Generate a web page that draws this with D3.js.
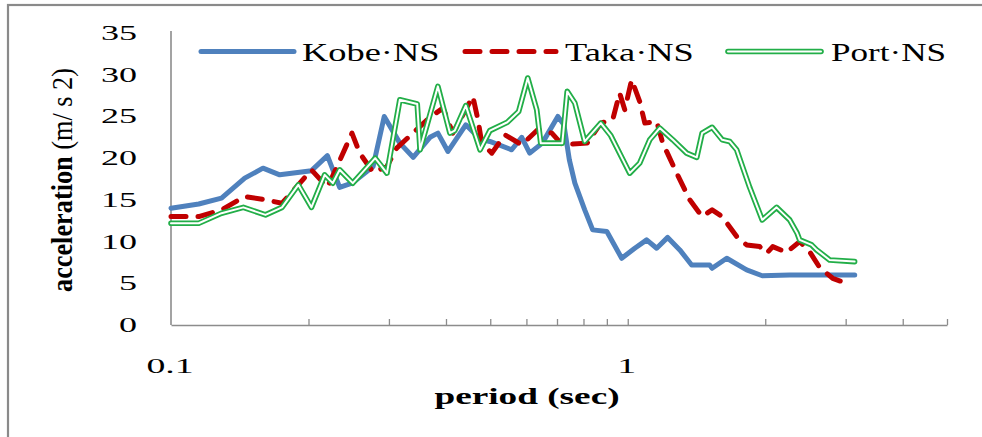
<!DOCTYPE html>
<html>
<head>
<meta charset="utf-8">
<script src="https://cdn.jsdelivr.net/npm/d3@7/dist/d3.min.js"></script>
<style>
  html, body { margin: 0; padding: 0; background: #fff; }
  svg { display: block; }
  text { font-family: "Liberation Serif", "DejaVu Serif", serif; fill: #000; }
</style>
</head>
<body>
<svg id="chart" width="982" height="437"></svg>
<script>
// Response spectra (acceleration vs. natural period), three NS records
const kobePeriod = [0.1, 0.115, 0.129, 0.145, 0.159, 0.173, 0.203, 0.220, 0.234, 0.249, 0.277, 0.293,
  0.317, 0.339, 0.369, 0.384, 0.404, 0.442, 0.475, 0.499, 0.557, 0.586, 0.610, 0.650, 0.703, 0.725,
  0.745, 0.766, 0.805, 0.838, 0.900, 0.970, 1.036, 1.10, 1.157, 1.223, 1.30, 1.38, 1.511, 1.53,
  1.647, 1.821, 1.97, 2.262, 3.14];
const kobeAcc = [14.0, 14.5, 15.2, 17.6, 18.8, 18.0, 18.5, 20.3, 16.5, 17.0, 19.0, 25.0,
  21.8, 20.1, 22.5, 23.0, 20.8, 24.0, 22.3, 22.0, 21.0, 22.5, 20.6, 21.8, 25.0, 24.0,
  19.8, 17.0, 13.8, 11.4, 11.2, 8.0, 9.2, 10.2, 9.2, 10.5, 9.0, 7.2, 7.2, 6.8,
  8.0, 6.6, 5.9, 6.0, 6.0];

const takaPeriod = [0.1, 0.115, 0.129, 0.145, 0.161, 0.175, 0.190, 0.203, 0.220, 0.231, 0.249, 0.259,
  0.277, 0.297, 0.312, 0.369, 0.394, 0.414, 0.458, 0.470, 0.479, 0.504, 0.538, 0.586, 0.635, 0.682,
  0.719, 0.815, 0.873, 0.927, 0.960, 0.985, 1.02, 1.062, 1.09, 1.157, 1.193, 1.28, 1.367, 1.455,
  1.53, 1.61, 1.732, 1.821, 1.945, 2.015, 2.077, 2.227, 2.379, 2.501, 2.631, 2.81, 3.01];
const takaAcc = [13.0, 13.0, 13.8, 15.4, 15.0, 14.6, 16.8, 18.6, 16.5, 19.0, 23.0, 20.6,
  18.3, 19.0, 21.2, 24.9, 26.0, 23.0, 27.4, 24.6, 21.8, 20.6, 22.8, 21.6, 23.4, 23.0,
  21.6, 21.8, 24.2, 24.6, 27.8, 25.8, 29.4, 26.8, 24.2, 24.4, 21.8, 18.2, 15.0, 13.0,
  13.8, 13.0, 10.6, 9.6, 9.4, 8.6, 9.4, 8.7, 10.0, 8.8, 6.9, 5.6, 5.0];

const portPeriod = [0.1, 0.115, 0.129, 0.144, 0.161, 0.175, 0.190, 0.203, 0.217, 0.226, 0.234, 0.250,
  0.280, 0.297, 0.317, 0.346, 0.351, 0.384, 0.408, 0.418, 0.442, 0.475, 0.499, 0.545, 0.577, 0.604,
  0.632, 0.645, 0.719, 0.737, 0.766, 0.805, 0.873, 0.918, 1.01, 1.062, 1.117, 1.175, 1.255, 1.346,
  1.416, 1.455, 1.53, 1.61, 1.672, 1.732, 1.849, 1.97, 2.118, 2.262, 2.349, 2.379, 2.527, 2.592,
  2.767, 3.138];
const portAcc = [12.2, 12.2, 13.4, 14.1, 13.2, 14.1, 16.8, 14.1, 18.0, 17.0, 18.6, 17.0,
  20.0, 18.2, 27.0, 26.5, 21.0, 28.6, 23.0, 23.3, 26.3, 21.0, 23.3, 24.3, 25.6, 29.6,
  25.8, 21.8, 21.8, 28.0, 26.6, 22.0, 24.2, 22.7, 18.2, 19.4, 22.2, 23.6, 22.2, 20.6,
  20.1, 23.0, 23.7, 22.2, 22.0, 21.0, 16.5, 12.6, 14.1, 12.6, 11.0, 10.2, 9.6, 9.0,
  7.8, 7.6];

const seriesNames = ["Kobe·NS", "Taka·NS", "Port·NS"];
const accTicks = [0, 5, 10, 15, 20, 25, 30, 35];
const periodMinorTicks = [0.2, 0.3, 0.4, 0.5, 0.6, 0.7, 0.8, 0.9, 1, 2, 3, 4, 5];
const periodLabels = [0.1, 1];
const xTitle = "period (sec)";
const yTitleMain = "acceleration";
const yTitleUnit = " (m/ s 2)";

const svg = d3.select("#chart");

// outer chart frame
svg.append("rect")
  .attr("x", 8).attr("y", 5).attr("width", 1100).attr("height", 600)
  .attr("fill", "none").attr("stroke", "#8a8a8a").attr("stroke-width", 2.2);

const x = d3.scaleLog().domain([0.1, 5]).range([171, 947]);
const y = d3.scaleLinear().domain([0, 35]).range([325, 33]);

// axes
const axisColor = "#8c8c8c";
const gx = svg.append("g").attr("transform", "translate(0,325)")
  .call(d3.axisBottom(x).tickValues(periodMinorTicks).tickSizeInner(-6).tickSizeOuter(0).tickFormat(""));
gx.select(".domain").attr("stroke", axisColor).attr("stroke-width", 1.6);
gx.selectAll(".tick line").attr("stroke", axisColor).attr("stroke-width", 1.3);

const gy = svg.append("g").attr("transform", "translate(171,0)")
  .call(d3.axisLeft(y).tickValues([]).tickSizeOuter(0));
gy.select(".domain").attr("stroke", axisColor).attr("stroke-width", 1.6)
  .attr("d", `M0,${y(0)}V${y(35) - 2}`);

// stretched text helper
function stretched(g, txt, px, py, sx, anchor) {
  return g.append("text")
    .attr("transform", `translate(${px},${py}) scale(${sx},1)`)
    .attr("text-anchor", anchor)
    .text(txt);
}

const yLab = svg.append("g").attr("font-size", 20);
accTicks.forEach(v => stretched(yLab, String(v), 137, y(v) + 7, 1.8, "end"));

const xLab = svg.append("g").attr("font-size", 21);
periodLabels.forEach(v => stretched(xLab, String(v), x(v) - 1, 373, 1.8, "middle"));

// axis titles
stretched(svg, xTitle, 527, 404, 1.62, "middle")
  .attr("font-size", 23).attr("font-weight", "bold");

const yt = svg.append("text")
  .attr("transform", "translate(72,292) rotate(-90)")
  .attr("text-anchor", "start")
  .attr("font-size", 30)
  .attr("textLength", 224)
  .attr("lengthAdjust", "spacingAndGlyphs");
yt.append("tspan").attr("font-weight", "bold").text(yTitleMain);
yt.append("tspan").text(yTitleUnit);

// series
const line = d3.line().x(d => x(d[0])).y(d => y(d[1]));
const kobe = d3.zip(kobePeriod, kobeAcc);
const taka = d3.zip(takaPeriod, takaAcc);
const port = d3.zip(portPeriod, portAcc);

const blue = "#4f81bd", red = "#c00000", green = "#22ae48";
const dash = "15,12";

svg.append("path").attr("d", line(kobe)).attr("fill", "none")
  .attr("stroke", blue).attr("stroke-width", 5).attr("stroke-linejoin", "round").attr("stroke-linecap", "round");

svg.append("path").attr("d", line(taka)).attr("fill", "none")
  .attr("stroke", red).attr("stroke-width", 5).attr("stroke-dasharray", dash)
  .attr("stroke-linejoin", "round").attr("stroke-linecap", "round");

function doubleLine(g, d) {
  g.append("path").attr("d", d).attr("fill", "none").attr("stroke", green)
    .attr("stroke-width", 5.6).attr("stroke-linejoin", "round").attr("stroke-linecap", "round");
  g.append("path").attr("d", d).attr("fill", "none").attr("stroke", "#fff")
    .attr("stroke-width", 2).attr("stroke-linejoin", "round").attr("stroke-linecap", "round");
}
doubleLine(svg, line(port));

// legend
const legend = svg.append("g").attr("font-size", 26);
const legendItems = [
  { name: seriesNames[0], x0: 201, x1: 294, tx: 302, sx: 1.4 },
  { name: seriesNames[1], x0: 465, x1: 556, tx: 565, sx: 1.4 },
  { name: seriesNames[2], x0: 728, x1: 821, tx: 831, sx: 1.35 }
];
const ly = 51.5;
legend.append("line").attr("x1", legendItems[0].x0).attr("x2", legendItems[0].x1)
  .attr("y1", ly).attr("y2", ly).attr("stroke", blue).attr("stroke-width", 5).attr("stroke-linecap", "round");
legend.append("line").attr("x1", legendItems[1].x0).attr("x2", legendItems[1].x1)
  .attr("y1", ly).attr("y2", ly).attr("stroke", red).attr("stroke-width", 5)
  .attr("stroke-dasharray", dash).attr("stroke-linecap", "round");
doubleLine(legend, `M${legendItems[2].x0},${ly}H${legendItems[2].x1}`);
legendItems.forEach(it => stretched(legend, it.name, it.tx, 61, it.sx, "start"));
</script>
</body>
</html>
